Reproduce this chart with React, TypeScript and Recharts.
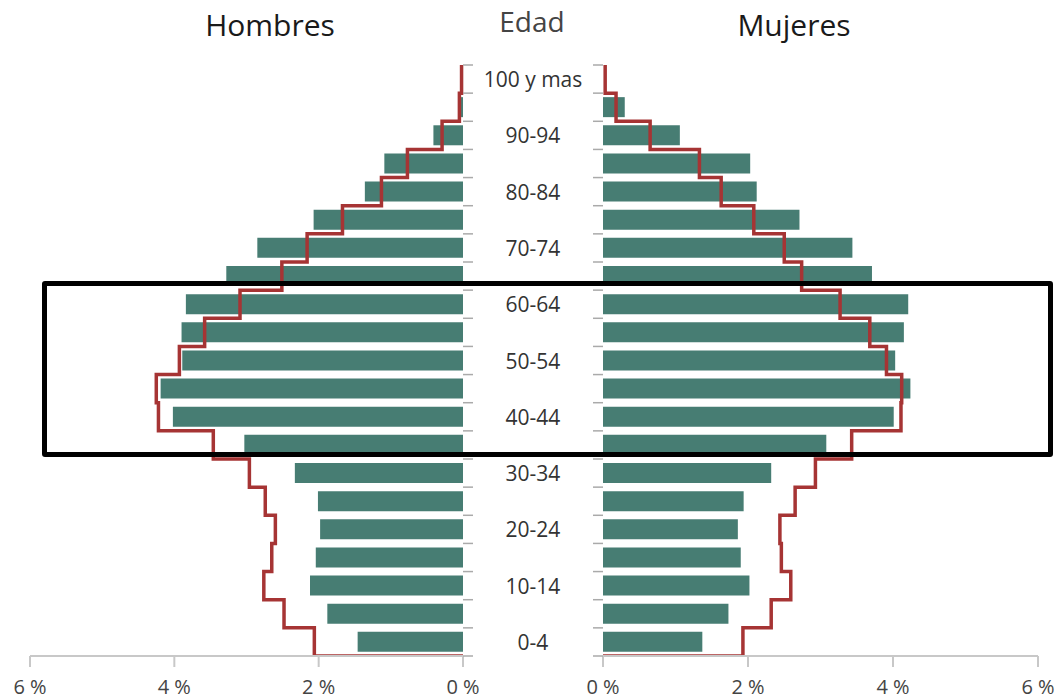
import { ComposedChart, Bar, Line, XAxis, YAxis } from 'recharts';

// age groups, bottom to top
const ages = ['0-4', '5-9', '10-14', '15-19', '20-24', '25-29', '30-34', '35-39', '40-44', '45-49', '50-54',
    '55-59', '60-64', '65-69', '70-74', '75-79', '80-84', '85-89', '90-94', '95-99', '100 y mas'];

// % of population (bars)
const hombres = [1.46, 1.88, 2.12, 2.04, 1.98, 2.01, 2.33, 3.03, 4.02, 4.19, 3.89, 3.90, 3.84, 3.28, 2.85, 2.07, 1.36, 1.09, 0.41, 0.04, 0];
const mujeres = [1.37, 1.73, 2.02, 1.90, 1.86, 1.94, 2.32, 3.08, 4.01, 4.24, 4.03, 4.15, 4.21, 3.71, 3.44, 2.71, 2.12, 2.03, 1.06, 0.30, 0];

// comparison profile (red outline)
const hombresRef = [2.06, 2.48, 2.76, 2.65, 2.60, 2.74, 2.96, 3.46, 4.22, 4.25, 3.93, 3.58, 3.09, 2.51, 2.16, 1.67, 1.13, 0.77, 0.29, 0.05, 0.02];
const mujeresRef = [1.93, 2.32, 2.59, 2.46, 2.44, 2.65, 2.93, 3.43, 4.11, 4.12, 3.91, 3.68, 3.27, 2.74, 2.50, 2.08, 1.63, 1.33, 0.65, 0.18, 0.03];

const pctTicks = [0, 2, 4, 6];

const GREEN = '#477d73';
const RED = '#a63434';
const FONT = '"Open Sans", sans-serif';
const CENTER_W = 140; // width of the age column (right chart's y axis)

const barData = ages.map((age, i) => ({ age, h: hombres[i], m: mujeres[i] }));

// outline as steps: vertical segment over each age band, joined at the band edges
const steps = (vals: number[]) => {
    const out = [{ pos: 0, v: 0 }];
    vals.forEach((v, i) => {
        out.push({ pos: i, v });
        out.push({ pos: i + 1, v });
    });
    return out;
};

const n = ages.length;
const edgeTicks = Array.from({ length: n + 1 }, (_, k) => k);
const allTicks = Array.from({ length: 2 * n + 1 }, (_, k) => k / 2);

// left chart: plot ends at 463, axis is 10px wide
const LeftEdgeTick = (props: any) => {
    const { y } = props;
    return <line x1={463} x2={473} y1={y} y2={y} stroke="#aaa" strokeWidth={1.5} />;
};

const CenterTick = (props: any) => {
    const { y, payload } = props;
    const v = payload.value;
    if (Number.isInteger(v)) {
        return <line x1={CENTER_W - 10} x2={CENTER_W} y1={y} y2={y} stroke="#aaa" strokeWidth={1.5} />;
    }
    const i = Math.floor(v);
    if (i % 2 !== 0) return <g />;
    return (
        <text x={CENTER_W / 2} y={y} textAnchor="middle" dominantBaseline="central" fill="#333" fontSize={21} fontFamily={FONT}>
            {ages[i]}
        </text>
    );
};

const axisStroke = { stroke: '#c8c8c8', strokeWidth: 2 };

export default function App() {
    return (
        <div style={{ position: 'absolute', left: 0, top: 0, width: 1060, height: 699, background: '#fff', fontFamily: FONT, overflow: 'hidden' }}>
            <div style={{ position: 'absolute', left: 170, width: 200, top: 10, textAlign: 'center', fontSize: 30, lineHeight: '30px', color: '#1a1a1a' }}>Hombres</div>
            <div style={{ position: 'absolute', left: 432, width: 200, top: 7, textAlign: 'center', fontSize: 28, lineHeight: '28px', color: '#444' }}>Edad</div>
            <div style={{ position: 'absolute', left: 694, width: 200, top: 10, textAlign: 'center', fontSize: 30, lineHeight: '30px', color: '#1a1a1a' }}>Mujeres</div>

            <div style={{ position: 'absolute', left: 0, top: 0 }}>
                <ComposedChart width={495} height={699} data={barData} layout="vertical" margin={{ top: 65, right: 22, bottom: 0, left: 30 }}>
                    <XAxis type="number" domain={[0, 6]} ticks={pctTicks} reversed height={43} interval={0}
                        tickFormatter={(v) => `${v} %`} tick={{ fill: '#444', fontSize: 20, fontFamily: FONT }}
                        axisLine={axisStroke} tickLine={axisStroke} tickSize={11} tickMargin={13} />
                    <YAxis yAxisId="cat" type="category" dataKey="age" reversed hide />
                    <YAxis yAxisId="num" type="number" dataKey="pos" domain={[0, n]} ticks={edgeTicks} interval={0} reversed
                        orientation="right" width={10} axisLine={false} tickLine={false} tickSize={10} tickMargin={0}
                        tick={LeftEdgeTick} allowDataOverflow />
                    <Bar yAxisId="cat" dataKey="h" fill={GREEN} barSize={20} isAnimationActive={false} />
                    <Line yAxisId="num" data={steps(hombresRef)} dataKey="v" type="linear" stroke={RED} strokeWidth={3.5}
                        dot={false} activeDot={false} isAnimationActive={false} />
                </ComposedChart>
            </div>

            <div style={{ position: 'absolute', left: 463, top: 0 }}>
                <ComposedChart width={597} height={699} data={barData} layout="vertical" margin={{ top: 65, right: 22, bottom: 0, left: 0 }}>
                    <XAxis type="number" domain={[0, 6]} ticks={pctTicks} height={43} interval={0}
                        tickFormatter={(v) => `${v} %`} tick={{ fill: '#444', fontSize: 20, fontFamily: FONT }}
                        axisLine={axisStroke} tickLine={axisStroke} tickSize={11} tickMargin={13} />
                    <YAxis yAxisId="cat" type="category" dataKey="age" reversed hide />
                    <YAxis yAxisId="num" type="number" dataKey="pos" domain={[0, n]} ticks={allTicks} interval={0} reversed
                        orientation="left" width={CENTER_W} axisLine={false} tickLine={false} tickSize={10} tickMargin={0}
                        tick={CenterTick} allowDataOverflow />
                    <Bar yAxisId="cat" dataKey="m" fill={GREEN} barSize={20} isAnimationActive={false} />
                    <Line yAxisId="num" data={steps(mujeresRef)} dataKey="v" type="linear" stroke={RED} strokeWidth={3.5}
                        dot={false} activeDot={false} isAnimationActive={false} />
                </ComposedChart>
            </div>

            {/* highlight box */}
            <div style={{ position: 'absolute', left: 42, top: 281, width: 1011, height: 176, border: '5px solid #000', borderRadius: 3, boxSizing: 'border-box' }} />
        </div>
    );
}
